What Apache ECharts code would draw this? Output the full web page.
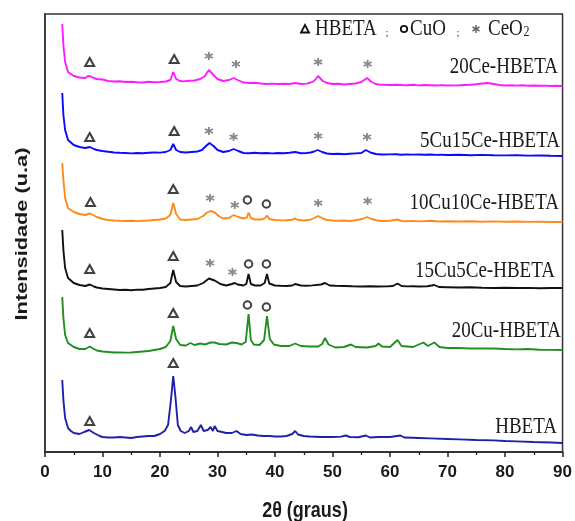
<!DOCTYPE html>
<html><head><meta charset="utf-8">
<script src="https://cdn.jsdelivr.net/npm/echarts@6/dist/echarts.min.js"></script>
<style>html,body{margin:0;padding:0;background:#fff}#c{width:575px;height:521px}</style>
</head><body><div id="c"></div>
<script>
// x: 2θ (degrees), y: intensity (arbitrary units, stacked offsets as drawn)
const xTicks = [0,10,20,30,40,50,60,70,80,90];
const sampleNames = ['20Ce-HBETA','5Cu15Ce-HBETA','10Cu10Ce-HBETA','15Cu5Ce-HBETA','20Cu-HBETA','HBETA'];
const sampleColors = ['#ff1aff','#0a0aff','#ff8a1c','#111111','#1f8f1f','#2020a8'];

const xrd20Ce = [[3.0,428],[3.2,407],[3.5,390],[4.0,380],[5,376],[6,374.5],[7,374],[7.5,376],[8,375.5],[8.5,374],[9,373],[10,372.5],[11,371],[12,370.5],[13,370.8],[14,370],[15,370.3],[16,369.8],[17,369.5],[18,370.2],[19,369.8],[20,370],[21,370.5],[21.8,372],[22.3,380],[22.8,373],[23.5,371],[24,370.6],[25,371.2],[26,371.5],[27,373],[27.8,376],[28.5,382],[29.3,377],[30,373],[31,371],[32,372],[32.8,374],[33.5,372],[34.5,369.5],[35.5,369],[36.5,369.3],[37.5,368.5],[38.5,368],[39.5,368.4],[40.5,368],[41.5,368.3],[42.5,368],[43.5,369],[44.5,368],[45.5,368.4],[46.2,369.5],[46.8,371],[47.5,376],[48.3,371],[49,369],[50,368],[51,368.2],[52,367.5],[53,368],[54,368.5],[55,370],[55.5,372],[56,374],[56.8,370],[57.5,368],[58,367.5],[59,367.2],[60,367],[61,367.3],[62,367],[63,366.8],[64,367.2],[65,366.6],[66,367],[67,366.8],[68,366.5],[69,366.9],[70,366.5],[72,366.8],[74,367.2],[75,367.8],[76,368.5],[77,369],[78,368],[79,367],[80,366.5],[81,366.8],[82,366.4],[83,366.7],[84,366.3],[85,366.5],[86,366.2],[87,366.4],[88,366],[89,366.2],[90,366]];

const xrd5Cu15Ce = [[3.0,359],[3.2,337],[3.5,322],[4.0,312],[5,307],[6,305],[7,304],[7.8,305],[8.5,303],[9,302],[10,301],[11,300.2],[12,299.5],[13,299.2],[14,299],[15,298.6],[16,299],[17,298.8],[18,299.2],[19,299.5],[20,299.4],[21,300],[21.8,302],[22.3,308],[22.8,302],[23.5,300],[24.5,299.5],[25.5,300],[26.5,300.5],[27.3,302],[28,306],[28.6,309],[29.3,306],[30,302],[31,300],[32,301],[32.8,303],[33.6,301],[34.5,299],[35.5,298.8],[36.5,299.2],[37.5,298.8],[38.5,299],[39.5,298.6],[40.5,299],[41.5,298.7],[42.5,299.2],[43.5,300],[44.5,298.8],[45.5,299],[46.2,299.5],[46.8,300.5],[47.4,302],[48.2,300],[49,298.5],[50,298],[51,298.3],[52,297.8],[53,298.2],[54,298.6],[55,299],[55.8,302],[56.6,299.5],[57.5,298],[58.5,297.5],[60,297.6],[61,297.8],[62,297.3],[63,297.6],[64,297.4],[65,297.5],[66,297.2],[67,297.5],[68,297.1],[69,297.3],[70,297],[72,297.2],[74,296.8],[76,297.1],[78,296.7],[80,296.6],[82,296.8],[84,296.4],[86,296.5],[88,296.2],[90,296]];

const xrd10Cu10Ce = [[3.0,289],[3.2,272],[3.5,254],[4.0,244],[5,240],[6,238],[7,237],[7.8,238.5],[8.5,236.5],[9,235],[10,233],[11,232],[12,231.5],[13,231.2],[14,231],[15,231.3],[16,230.9],[17,231.2],[18,231.5],[19,232],[20,232.5],[21,233.5],[21.8,237],[22.3,249],[22.8,238],[23.5,232.5],[24.5,232],[25.5,232.5],[26.5,233],[27.5,236],[28.2,239.5],[28.8,241],[29.5,239.5],[30.3,235.5],[31,233.5],[32,234],[32.8,237],[33.6,235],[34.5,233.5],[35.1,234.5],[35.4,239.5],[35.8,234],[36.5,232.5],[37.5,232.5],[38.2,233.5],[38.6,236.5],[39,233],[40,232],[41,231.6],[42,231.8],[43,232.3],[43.5,233.5],[44,232],[45,231.5],[46,232],[46.8,234],[47.5,236],[48.3,233.5],[49,232],[50,231.5],[51,231.2],[52,231.5],[53,231],[54,231.8],[55.2,233],[56,235],[56.8,233],[58,231.2],[59,231],[60,231.2],[61.3,232.5],[62,231],[63,230.8],[64,231.1],[65,230.6],[66,230.9],[67,231.2],[68,230.7],[69,230.5],[70,230.8],[72,230.5],[74,230.7],[76,230.3],[78,230.6],[80,230.3],[82,230.5],[84,230.1],[86,230.3],[88,230],[90,230]];

const xrd15Cu5Ce = [[3.0,222],[3.2,202],[3.5,184],[4.0,174],[5,169],[6,167],[7,166],[7.8,167.5],[8.5,165.5],[9,164.5],[10,163.5],[11,163],[12,162.5],[13,162],[14,162.2],[15,161.8],[16,162.4],[17,162.2],[18,163],[19,163.5],[20,164],[21,165],[21.8,169],[22.3,182],[22.8,170],[23.5,166],[24.5,165.5],[25.5,166],[26.5,166.5],[27.5,169],[28.5,173.5],[29.5,171.5],[30.5,168],[31.5,166.5],[32.5,168],[33,169],[33.5,167.5],[34.5,166.5],[35.0,168],[35.4,178],[35.8,168],[36.5,166.5],[37.5,166.5],[38.2,169],[38.6,178],[39,168.5],[40,166.5],[41,166.2],[42,166],[43,166.5],[43.5,168],[44.5,166.5],[45.5,166.2],[46.5,166.6],[48,167.5],[48.7,169],[49.5,166.5],[50.5,166.2],[52,166],[53.5,165.7],[55,165.5],[56.5,165.8],[58,165.5],[59.5,165.6],[60.5,166],[61.3,168.5],[62,166],[63,165.6],[64,165.8],[65,165.5],[66.5,165.8],[67.7,167],[68.5,165],[70,164.8],[72,164.5],[74,164.7],[76,164.3],[78,164],[80,164.2],[82,164],[84,164.1],[86,163.8],[88,164],[90,164]];

const xrd20Cu = [[3.0,155],[3.2,134],[3.5,117],[4.0,109],[5,105],[6,103],[7,103],[7.8,105.5],[8.5,103],[9,101.5],[10,100.5],[11,100],[12,99.5],[13,99.6],[14,99.4],[15,99.5],[16,100],[17,100.5],[18,101],[19,102],[20,103],[21,105],[21.8,111],[22.3,126],[22.8,113],[23.5,107],[24.5,106.5],[25.3,109],[26,107],[27,108.5],[27.8,107.5],[28.8,109.5],[29.5,109.5],[30.3,108],[31.5,107.5],[32.5,109.5],[33.3,109],[34.2,107.5],[34.9,110],[35.4,138],[35.8,112],[36.3,107.5],[37.3,107],[38.1,112],[38.6,136],[39.1,113],[39.8,107.5],[41,106],[42.5,106],[43.5,108.5],[44.5,106],[46,105.5],[47.5,105.5],[48.2,108],[48.7,114],[49.3,107.5],[50.5,104.5],[52,105],[53.2,107.5],[54,105],[56,104.5],[57.5,106],[58,108.5],[58.6,105.5],[60,105],[61.3,112],[62,106],[64,105],[65.8,109.5],[66.6,106],[67.7,109.5],[68.6,105],[70,104],[72,104],[74,103.5],[76,103.6],[78,103.5],[80,103],[82,102.6],[84,103],[86,102.2],[88,102.1],[90,102]];

const xrdHBETA = [[3.0,72],[3.2,52],[3.5,34],[4.0,24],[4.5,21],[5,19],[6,18],[6.8,20],[7.7,22],[8.5,19],[9.5,16],[10,15],[11,14.5],[12,14.5],[13,15],[14,14.5],[15,14],[16,15],[17,15.5],[18,16],[19,16],[20,18],[20.8,21],[21.4,27],[21.9,52],[22.3,76],[22.7,54],[23.1,27],[23.6,21],[24.3,19],[25.0,21],[25.4,25],[25.8,20],[26.5,21],[27.1,27],[27.6,21],[28.3,22],[28.8,25],[29.2,21],[29.5,26],[30,21],[30.8,20],[31.5,19],[32.5,19],[33.3,21],[34,18],[35,17],[36,17.5],[37,16.5],[38,16],[39,16],[40,15.5],[41,15.5],[42,16],[43.0,18],[43.5,21],[44,17.5],[45,16],[46,15.5],[48,15],[50,15],[51.5,15.4],[52.3,16.5],[53,15],[54.5,14.8],[55.8,16.5],[56.5,14.5],[58,15],[60,15],[61.8,16.5],[62.5,14.5],[64,14.2],[65,14],[67,13.6],[70,13],[72,12.6],[75,12],[78,11.6],[80,11],[82,10.6],[85,10],[88,9.5],[90,9]];

const sampleData = [xrd20Ce, xrd5Cu15Ce, xrd10Cu10Ce, xrd15Cu5Ce, xrd20Cu, xrdHBETA];

// phase markers [2θ, height]
const triangleMarks = [[7.77,390],[22.46,393],[7.77,315],[22.46,321],[7.9,250],[22.3,263],[7.77,183],[22.3,196],[7.77,119],[22.3,139],[7.77,31],[22.3,89]];
const circleMarks = [[35.2,252],[38.5,248],[35.4,188],[38.5,188],[35.2,147],[38.5,145]];
const asteriskMarks = [[28.5,396],[33.2,388],[47.5,390],[56.1,388],[28.5,321],[32.8,315],[47.5,316],[56.0,315],[28.7,254],[33.0,247],[47.5,249],[56.1,251],[28.7,189],[32.6,180]];

// sample label positions [x px right edge, y px center]
const labelPos = [[558,67],[560,141],[559,203],[555,271],[561,331],[557,427]];

const chart = echarts.init(document.getElementById('c'), null, {renderer:'canvas'});
const serif = '"Liberation Serif","Times New Roman",serif';
const sans = '"Liberation Sans",Arial,sans-serif';
const astPath = 'path://M0,-10L0,10M-8.66,-5L8.66,5M-8.66,5L8.66,-5';

const series = sampleData.map((d,i)=>({
  type:'line', name:sampleNames[i], data:d, showSymbol:false, smooth:false,
  lineStyle:{color:sampleColors[i], width:1.9}, animation:false, z:2
}));
series.push({type:'scatter', data:triangleMarks, symbol:'triangle', symbolSize:[9,8],
  itemStyle:{color:'rgba(0,0,0,0)', borderColor:'#111', borderWidth:2}, animation:false, z:3});
series.push({type:'scatter', data:circleMarks, symbol:'circle', symbolSize:7.5,
  itemStyle:{color:'rgba(0,0,0,0)', borderColor:'#111', borderWidth:2}, animation:false, z:3});
series.push({type:'scatter', data:asteriskMarks, symbol:astPath, symbolSize:8,
  itemStyle:{color:'rgba(0,0,0,0)', borderColor:'#6a6a6a', borderWidth:1.8}, animation:false, z:3});

const graphics = [];
sampleNames.forEach((n,i)=>{
  graphics.push({type:'text', x:labelPos[i][0], y:labelPos[i][1], scaleY:1.2,
    style:{text:n, x:0, y:0, align:'right', verticalAlign:'middle', font:'19px '+serif, fill:'#1a1a1a'}});
});
// legend row
graphics.push({type:'polygon', shape:{points:[[305,25],[301,32.5],[309,32.5]]}, style:{fill:'none', stroke:'#111', lineWidth:1.8}});
graphics.push({type:'text', x:315, y:29, scaleY:1.2, style:{text:'HBETA', x:0,y:0, align:'left', verticalAlign:'middle', font:'19px '+serif, fill:'#1a1a1a'}});
graphics.push({type:'text', x:387, y:33, style:{text:';', x:0,y:0, align:'center', verticalAlign:'middle', font:'11px '+serif, fill:'#444'}});
graphics.push({type:'circle', shape:{cx:404, cy:29, r:3.2}, style:{fill:'none', stroke:'#111', lineWidth:1.8}});
graphics.push({type:'text', x:410, y:29, scaleY:1.2, style:{text:'CuO', x:0,y:0, align:'left', verticalAlign:'middle', font:'19px '+serif, fill:'#1a1a1a'}});
graphics.push({type:'text', x:458, y:33, style:{text:';', x:0,y:0, align:'center', verticalAlign:'middle', font:'11px '+serif, fill:'#444'}});
[[476,25,476,33],[472.5,27,479.5,31],[472.5,31,479.5,27]].forEach(s=>{
  graphics.push({type:'line', shape:{x1:s[0],y1:s[1],x2:s[2],y2:s[3]}, style:{stroke:'#6a6a6a', lineWidth:1.6}});
});
graphics.push({type:'text', x:488, y:29, scaleY:1.2, style:{text:'CeO', x:0,y:0, align:'left', verticalAlign:'middle', font:'19px '+serif, fill:'#1a1a1a'}});
graphics.push({type:'text', x:523.5, y:32, scaleY:1.2, style:{text:'2', x:0,y:0, align:'left', verticalAlign:'middle', font:'12px '+serif, fill:'#1a1a1a'}});
// axis titles
graphics.push({type:'text', x:305, y:511, scaleY:1.2, style:{text:'2θ (graus)', x:0,y:0, align:'center', verticalAlign:'middle', font:'bold 18px '+sans, fill:'#1a1a1a'}});
graphics.push({type:'text', x:22, y:234, rotation:Math.PI/2, scaleX:1.28, style:{text:'Intensidade (u.a)', x:0,y:0, align:'center', verticalAlign:'middle', font:'bold 17px '+sans, fill:'#1a1a1a'}});

chart.setOption({
  backgroundColor:'#fff',
  animation:false,
  grid:{left:45, right:9, top:14, bottom:69, show:true, borderColor:'#333', borderWidth:1.5, backgroundColor:'transparent'},
  xAxis:{type:'value', min:xTicks[0], max:xTicks[xTicks.length-1], interval:10,
    axisLine:{show:true, lineStyle:{color:'#222', width:1.5}},
    axisTick:{show:true, length:5, inside:false, lineStyle:{color:'#222', width:1.5}},
    minorTick:{show:true, splitNumber:2, length:3, lineStyle:{color:'#222', width:1.3}},
    splitLine:{show:false},
    axisLabel:{margin:12, color:'#1a1a1a', fontWeight:'bold', fontSize:17, fontFamily:'"Liberation Sans Narrow","Liberation Sans",Arial,sans-serif'}},
  yAxis:{type:'value', min:0, max:438, axisLine:{show:true, lineStyle:{color:'#333', width:1.5}},
    axisTick:{show:false}, axisLabel:{show:false}, splitLine:{show:false}},
  series:series,
  graphic:graphics
});
</script></body></html>
